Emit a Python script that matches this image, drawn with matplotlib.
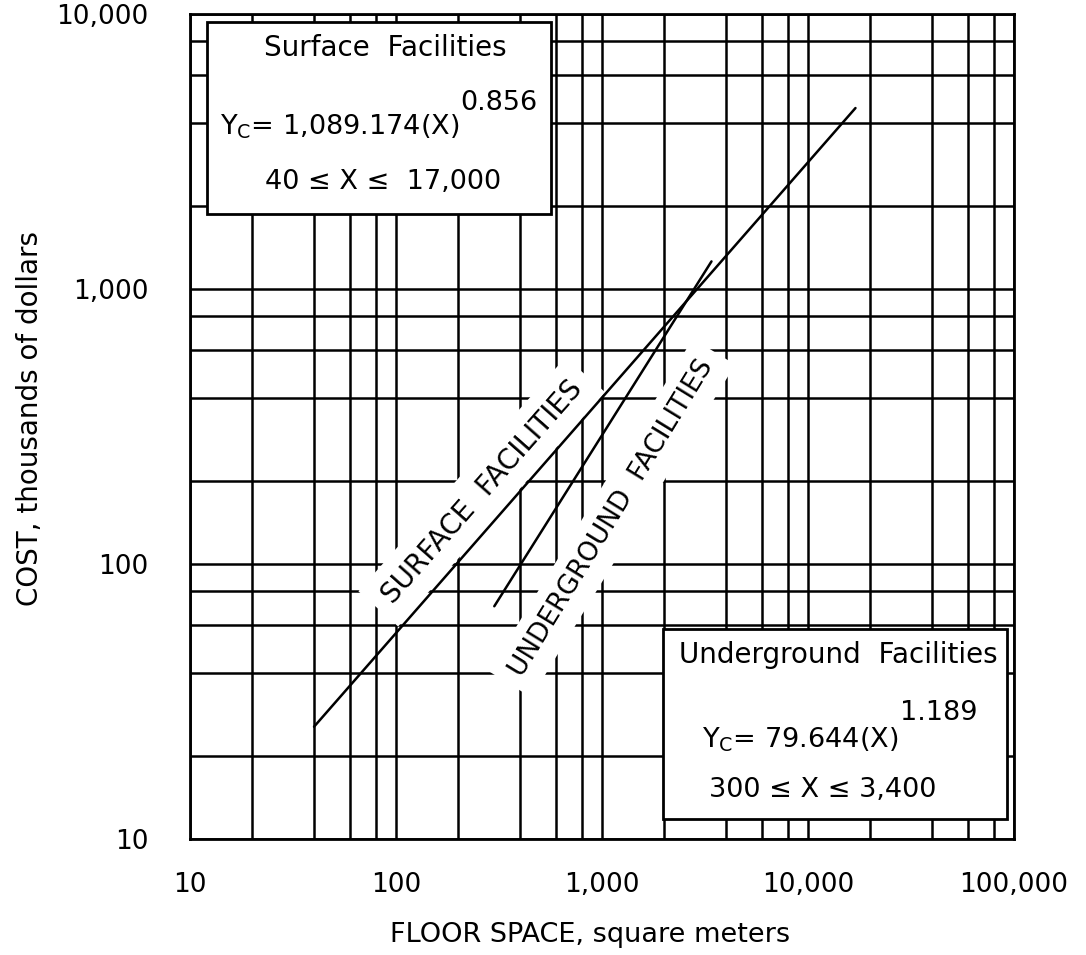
import matplotlib
matplotlib.use("Agg")
import matplotlib.pyplot as plt
from matplotlib.ticker import LogLocator, FixedLocator, FixedFormatter, NullFormatter
from matplotlib.patches import Rectangle

plt.rcParams['font.family'] = ['DejaVu Sans']

# Axis ticks and labels
x_ticks = [10, 100, 1000, 10000, 100000]
x_tick_labels = ["10", "100", "1,000", "10,000", "100,000"]
y_ticks = [10, 100, 1000, 10000]
y_tick_labels = ["10", "100", "1,000", "10,000"]

# Fitted cost curves (end points of each valid range), cost in thousands of dollars
surface_x = [40, 17000]
surface_y = [25.6, 4550]
underground_x = [300, 3400]
underground_y = [70.2, 1260]

W, H = 1086, 955
fig = plt.figure(figsize=(W / 100, H / 100), dpi=100)
ax = fig.add_axes([190 / W, 1 - 839 / H, 824 / W, 825 / H])
ax.set_xscale('log')
ax.set_yscale('log')
ax.set_xlim(10, 100000)
ax.set_ylim(10, 10000)

ax.xaxis.set_major_locator(FixedLocator(x_ticks))
ax.xaxis.set_major_formatter(FixedFormatter(x_tick_labels))
ax.yaxis.set_major_locator(FixedLocator(y_ticks))
ax.yaxis.set_major_formatter(FixedFormatter(y_tick_labels))
for axis in (ax.xaxis, ax.yaxis):
    axis.set_minor_locator(LogLocator(base=10, subs=(2, 4, 6, 8)))
    axis.set_minor_formatter(NullFormatter())

ax.grid(True, which='both', color='black', linewidth=1.8, zorder=1)
ax.set_axisbelow(True)
ax.tick_params(which='both', length=0)
ax.tick_params(axis='x', pad=24, labelsize=19)
ax.tick_params(axis='y', pad=30, labelsize=19)
for s in ax.spines.values():
    s.set_linewidth(2.0)
    s.set_zorder(6)

ax.set_xlabel("FLOOR SPACE, square meters", fontsize=19.5)
ax.set_ylabel("COST, thousands of dollars", fontsize=20)
ax.xaxis.set_label_coords(0.485, -0.116)
ax.xaxis.label.set_va('center')
ax.yaxis.set_label_coords(-0.194, 0.51)
ax.yaxis.label.set_va('center')

# Curves
ax.plot(surface_x, surface_y, color='black', lw=1.8, zorder=5, solid_capstyle='round')
ax.plot(underground_x, underground_y, color='black', lw=1.8, zorder=5, solid_capstyle='round')

# Curve labels with white backing that breaks the grid
lbl_box = dict(boxstyle='square,pad=0.45', fc='white', ec='none')
ax.text(261, 183, "SURFACE  FACILITIES", rotation=48.5, rotation_mode='anchor',
        ha='center', va='center', fontsize=20, bbox=lbl_box, zorder=3)
ax.text(1119, 147, "UNDERGROUND  FACILITIES", rotation=58.5, rotation_mode='anchor',
        ha='center', va='center', fontsize=19, bbox=lbl_box, zorder=3)


def fx(px):
    return px / W


def fy(py):
    return 1 - py / H


# Equation boxes
for (l, t, r, b) in [(207, 22, 551, 214), (663, 629, 1007, 819)]:
    fig.patches.append(Rectangle((fx(l), fy(b)), fx(r) - fx(l), fy(t) - fy(b),
                                 transform=fig.transFigure, fc='white', ec='black',
                                 lw=2.0, zorder=7))


def equation(x_left, y_mid, coef, expo, y_exp):
    t = fig.text(fx(x_left), fy(y_mid), r"$\mathregular{Y_C}$= " + coef,
                 ha='left', va='center', fontsize=19.5, zorder=8)
    fig.canvas.draw()
    bb = t.get_window_extent()
    fig.text(bb.x1 / W + 0.001, fy(y_exp), expo, ha='left', va='center',
             fontsize=19.5, zorder=8)


fig.text(fx(385), fy(48), "Surface  Facilities", ha='center', va='center', fontsize=20, zorder=8)
equation(220, 127, "1,089.174(X)", "0.856", 103)
fig.text(fx(383), fy(182), "40 \u2264 X \u2264  17,000", ha='center', va='center', fontsize=19.5, zorder=8)

fig.text(fx(838), fy(655), "Underground  Facilities", ha='center', va='center', fontsize=20, zorder=8)
equation(702, 740, "79.644(X)", "1.189", 713)
fig.text(fx(823), fy(790), "300 \u2264 X \u2264 3,400", ha='center', va='center', fontsize=19.5, zorder=8)

fig.savefig("out.png", dpi=100)
